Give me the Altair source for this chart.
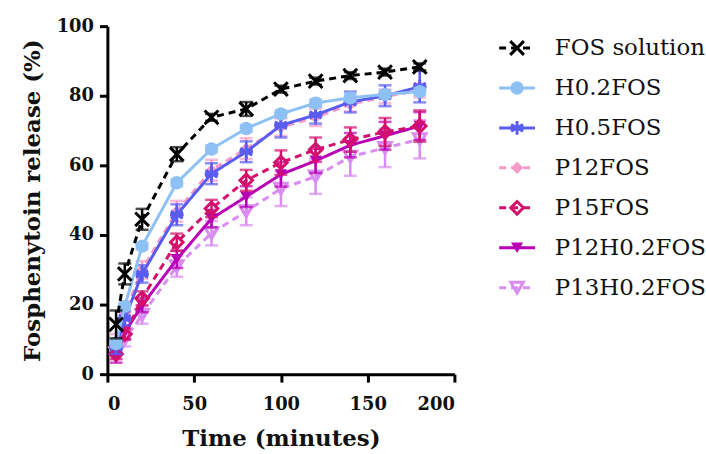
import altair as alt
import pandas as pd

time = [5, 10, 20, 40, 60, 80, 100, 120, 140, 160, 180]
names = ["FOS solution", "H0.2FOS", "H0.5FOS", "P12FOS", "P15FOS", "P12H0.2FOS", "P13H0.2FOS"]
labels = ["FOS solution", "H0.2FOS", "H0.5FOS", "P12FOS", "P15FOS", "P12H0.2FOS", "P13H0.2FOS"]
colors = ["#000000", "#8EC1F3", "#5A5CF0", "#F59AC6", "#D3106C", "#B800B4", "#D98CF2"]

fos_solution = [14.3, 28.8, 44.5, 63.2, 73.8, 76.2, 81.9, 84.2, 85.8, 86.8, 88.3]
h02 = [8.8, 19.5, 36.8, 55.0, 64.7, 70.6, 74.8, 77.9, 79.4, 80.4, 81.2]
h05 = [7.8, 16.0, 28.8, 45.8, 57.6, 63.9, 71.5, 74.5, 78.2, 80.0, 82.6]
p12 = [9.5, 17.5, 30.0, 46.8, 58.6, 64.8, 71.0, 73.8, 77.5, 79.8, 81.5]
p15 = [5.8, 11.5, 21.8, 37.9, 47.6, 55.7, 60.8, 64.5, 67.4, 69.6, 71.3]
p12h02 = [4.8, 12.0, 19.8, 33.0, 44.7, 51.0, 57.4, 61.3, 65.8, 68.5, 71.3]
p13h02 = [6.0, 10.0, 17.0, 31.0, 40.5, 46.8, 53.3, 56.8, 62.5, 65.0, 67.5]

sd_fos = [4.0, 3.0, 3.0, 2.0, 1.0, 2.0, 1.0, 1.0, 1.0, 1.0, 1.0]
sd_h02 = [1.0, 1.0, 1.0, 1.0, 1.0, 1.0, 1.0, 1.0, 1.0, 1.0, 1.0]
sd_h05 = [2.0, 2.0, 2.5, 3.0, 3.0, 3.0, 3.5, 2.5, 3.0, 3.0, 4.5]
sd_p12 = [2.0, 2.0, 2.5, 3.0, 3.0, 3.0, 2.5, 2.5, 2.0, 2.0, 2.0]
sd_p15 = [1.5, 1.5, 2.0, 2.5, 2.5, 3.0, 3.5, 3.5, 3.5, 4.0, 4.5]
sd_p12h02 = [1.5, 2.0, 2.0, 2.5, 2.5, 3.0, 3.5, 3.5, 3.5, 4.0, 4.0]
sd_p13h02 = [1.5, 2.0, 2.5, 3.0, 3.5, 4.0, 5.0, 5.0, 5.5, 5.5, 5.5]

means = [fos_solution, h02, h05, p12, p15, p12h02, p13h02]
sds = [sd_fos, sd_h02, sd_h05, sd_p12, sd_p15, sd_p12h02, sd_p13h02]

X_PATH = "M-1,-1L1,1M-1,1L1,-1"
AST_PATH = "M0,-1L0,1M-0.87,-0.5L0.87,0.5M-0.87,0.5L0.87,-0.5M-1,0L1,0"
# (dash, shape, filled, size)
styles = [
    ([7, 5], X_PATH, False, 190),
    ([1, 0], "circle", True, 180),
    ([1, 0], AST_PATH, False, 190),
    ([7, 5], "diamond", True, 150),
    ([7, 5], "diamond", False, 160),
    ([1, 0], "triangle-down", True, 150),
    ([7, 5], "triangle-down", False, 160),
]

FONT = "DejaVu Serif"

xs = alt.Scale(domain=[0, 200], nice=False)
ys = alt.Scale(domain=[0, 100], nice=False)

layers = []
draw_order = [6, 5, 4, 3, 2, 1, 0]
for i in draw_order:
    df = pd.DataFrame({
        "t": time,
        "m": means[i],
        "lo": [m - s for m, s in zip(means[i], sds[i])],
        "hi": [m + s for m, s in zip(means[i], sds[i])],
    })
    dash, shape, filled, size = styles[i]
    c = colors[i]
    base = alt.Chart(df)
    x_enc = alt.X("t:Q", scale=xs, title="Time (minutes)",
                  axis=alt.Axis(values=[0, 50, 100, 150, 200]))
    y_enc = alt.Y("m:Q", scale=ys, title="Fosphenytoin release (%)",
                  axis=alt.Axis(values=[0, 20, 40, 60, 80, 100]))
    line = base.mark_line(color=c, strokeWidth=3, strokeDash=dash).encode(x=x_enc, y=y_enc)
    err = base.mark_rule(color=c, strokeWidth=2.5).encode(x="t:Q", y="lo:Q", y2="hi:Q")
    cap_lo = base.mark_tick(color=c, orient="horizontal", size=13, thickness=2.5).encode(x="t:Q", y="lo:Q")
    cap_hi = base.mark_tick(color=c, orient="horizontal", size=13, thickness=2.5).encode(x="t:Q", y="hi:Q")
    if filled:
        pts = base.mark_point(shape=shape, filled=True, color=c, size=size, opacity=1).encode(x="t:Q", y="m:Q")
    else:
        pts = base.mark_point(shape=shape, filled=False, color=c, size=size, strokeWidth=3, opacity=1).encode(x="t:Q", y="m:Q")
    layers += [line, err, cap_lo, cap_hi, pts]

main = alt.layer(*layers).properties(width=349, height=350)

leg_layers = []
ly = alt.Y("lname:N", scale=alt.Scale(type="point", domain=labels, range=[22, 263], padding=0), axis=None)
for i in range(len(names)):
    ldf = pd.DataFrame({"lname": [labels[i]]})
    dash, shape, filled, size = styles[i]
    c = colors[i]
    lb = alt.Chart(ldf)
    rule = lb.mark_rule(color=c, strokeWidth=3, strokeDash=dash).encode(
        x=alt.value(0), x2=alt.value(36), y=ly)
    if filled:
        p = lb.mark_point(shape=shape, filled=True, color=c, size=size, opacity=1).encode(x=alt.value(18), y=ly)
    else:
        p = lb.mark_point(shape=shape, filled=False, color=c, size=size, strokeWidth=3, opacity=1).encode(x=alt.value(18), y=ly)
    txt = lb.mark_text(align="left", baseline="middle", font=FONT, fontSize=23, color="#111111").encode(
        x=alt.value(56), y=ly, text="lname:N")
    leg_layers += [rule, p, txt]

legend = alt.layer(*leg_layers).properties(width=200, height=350)

chart = alt.hconcat(main, legend, spacing=41).configure_view(stroke=None).configure_axis(
    grid=False,
    domainColor="black",
    domainWidth=3,
    tickColor="black",
    tickWidth=3,
    tickSize=8,
    labelFont=FONT,
    labelFontWeight="bold",
    labelFontSize=18,
    labelColor="#111111",
    titleFont=FONT,
    titleFontWeight="bold",
    titleFontSize=23,
    titleColor="#111111",
).configure_axisY(titlePadding=12, labelPadding=6).configure_axisX(titlePadding=14, labelPadding=14).properties(
    padding={"left": 21, "top": 16, "right": 0, "bottom": 5}
)

chart.save("out.html", embed_options={"renderer": "svg", "actions": False})
